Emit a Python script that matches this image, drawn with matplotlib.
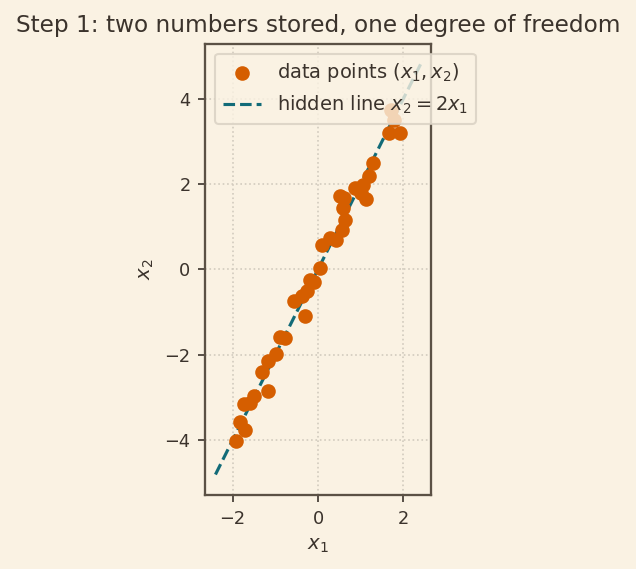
import numpy as np
import matplotlib
matplotlib.use("Agg")
import matplotlib.pyplot as plt

BG, INK, EDGE = "#FAF2E3", "#3B332C", "#5B5145"
ORANGE, TEAL = "#D55E00", "#126B78"

x1 = [1.72, 1.79, 1.65, 1.91, 1.28, 1.19, 0.86, 1.05, 1.01, 1.13,
      0.51, 0.60, 0.59, 0.64, 0.57, 0.43, 0.28, 0.10, 0.05, -0.19,
      -0.09, -0.25, -0.38, -0.56, -0.30, -0.90, -0.77, -0.98, -1.16, -1.31,
      -1.18, -1.50, -1.74, -1.58, -1.83, -1.71, -1.93]
x2 = [3.74, 3.50, 3.20, 3.19, 2.49, 2.19, 1.91, 1.98, 1.78, 1.64,
      1.71, 1.66, 1.43, 1.16, 0.93, 0.70, 0.74, 0.56, 0.03, -0.24,
      -0.30, -0.51, -0.63, -0.73, -1.08, -1.59, -1.61, -1.97, -2.15, -2.39,
      -2.85, -2.97, -3.15, -3.13, -3.56, -3.75, -4.01]
line_x = np.linspace(-2.4, 2.4, 50)

plt.rcParams.update({
    "figure.facecolor": BG, "axes.facecolor": BG, "savefig.facecolor": BG,
    "text.color": INK, "axes.labelcolor": INK, "xtick.color": INK, "ytick.color": INK,
    "axes.edgecolor": EDGE, "font.size": 9,
})

fig = plt.figure(figsize=(6.36 / 1.5, 5.69 / 1.5), dpi=150)
ax = fig.add_axes([0.322, 0.130, 0.356, 0.793])
ax.scatter(x1, x2, s=36, color=ORANGE, zorder=3, label=r"data points $(x_1, x_2)$")
ax.plot(line_x, 2 * line_x, "--", color=TEAL, lw=1.5, zorder=2, label=r"hidden line $x_2 = 2x_1$")
ax.set_aspect("equal")
ax.set_xticks([-2, 0, 2]); ax.set_yticks([-4, -2, 0, 2, 4])
ax.tick_params(labelsize=8.5)
ax.grid(True, ls=":", color="#D2CBBE", lw=0.8)
ax.set_axisbelow(True)
for s in ax.spines.values():
    s.set_linewidth(1.1)
ax.set_xlabel(r"$x_1$", fontsize=9.5); ax.set_ylabel(r"$x_2$", fontsize=9.5)
ax.set_title("Step 1: two numbers stored, one degree of freedom", fontsize=11.2, pad=5.5)
ax.legend(loc="upper left", fontsize=9.3, facecolor=BG, edgecolor="#D8D0C2", framealpha=0.8)
fig.savefig("out.png", dpi=150)
